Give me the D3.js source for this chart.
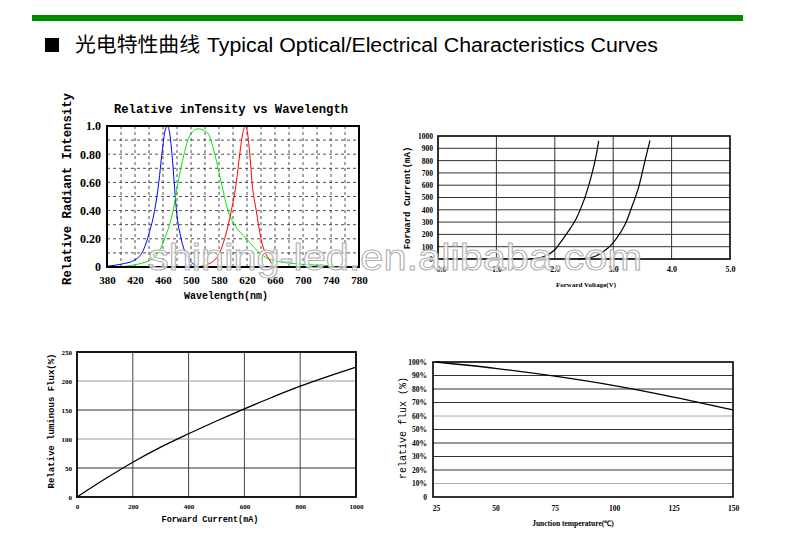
<!DOCTYPE html>
<html><head><meta charset="utf-8">
<script src="https://cdn.jsdelivr.net/npm/d3@7"></script>
<style>body{margin:0;background:#fff}svg{display:block}</style>
</head><body>
<svg id="c" width="790" height="544"></svg>
<script>
// ---------- data ----------
const wlLabels = ["380","420","460","500","580","620","660","700","740","780"];
const specYTicks = [0,0.2,0.4,0.6,0.8,1.0];
const specYLabels = ["0","0.20","0.40","0.60","0.80","1.0"];
const blueX = [0,0.5,1.0,1.3,1.52,1.7,1.85,1.96,2.08,2.15,2.22,2.32,2.4,2.48,2.65,2.95,3.25];
const blueY = [0.005,0.02,0.05,0.12,0.25,0.4,0.6,0.8,0.97,1.0,0.97,0.8,0.6,0.4,0.2,0.05,0.005];
const greenX = [0.3,1.1,1.7,2.06,2.36,2.54,2.75,2.95,3.25,3.6,3.85,4.08,4.32,4.56,4.98,5.45,5.87,6.94,7.9];
const greenY = [0,0.02,0.07,0.2,0.4,0.6,0.8,0.93,0.98,0.95,0.8,0.6,0.4,0.3,0.2,0.1,0.05,0.02,0.01];
const redX = [3.25,3.85,4.2,4.44,4.62,4.74,4.85,4.94,5.02,5.1,5.18,5.33,5.5,5.8,6.05];
const redY = [0,0.05,0.2,0.4,0.6,0.8,0.95,1.0,0.95,0.8,0.6,0.4,0.2,0.05,0];

const vfTicks = [0,1,2,3,4,5];
const vfLabels = ["0.0","1.0","2.0","3.0","4.0","5.0"];
const ifTicks = [0,100,200,300,400,500,600,700,800,900,1000];
const iv1V = [1.6,1.83,2.0,2.11,2.23,2.37,2.51,2.63,2.71,2.75];
const iv1I = [0,22,75,143,224,332,493,682,844,960];
const iv2V = [2.4,2.69,2.91,3.06,3.2,3.31,3.43,3.54,3.63];
const iv2I = [0,22,89,170,278,412,574,790,965];

const curTicks = [0,200,400,600,800,1000];
const fluxTicks = [0,50,100,150,200,250];
const current = [0,100,200,300,400,500,600,700,800,900,1000];
const flux = [0,31,60,86,109,131,152,172,191,208,224];

const tempTicks = [25,50,75,100,125,150];
const relTicks = [0,10,20,30,40,50,60,70,80,90,100];
const temp = [25,50,75,100,125,150];
const relFlux = [100,95.3,89.5,82.5,74,64.5];

// ---------- drawing ----------
const svg = d3.select("#c");
const MONO = "'Liberation Mono', 'DejaVu Sans Mono', monospace";
const SERIF = "'Liberation Serif', serif";
const smooth = d3.curveCatmullRom.alpha(0.5);

// header
svg.append("rect").attr("x",32).attr("y",15).attr("width",711).attr("height",6).attr("fill","#008a00");
svg.append("rect").attr("x",45).attr("y",38).attr("width",14).attr("height",14).attr("fill","#000");
svg.append("text").attr("x",75).attr("y",52).attr("font-family","'Noto Sans CJK SC', sans-serif")
  .attr("font-size",20).attr("fill","#000").attr("textLength",125).attr("lengthAdjust","spacingAndGlyphs").text("光电特性曲线");
svg.append("text").attr("x",207).attr("y",52).attr("font-family","'Liberation Sans', Arial, sans-serif")
  .attr("font-size",19.5).attr("fill","#000").attr("textLength",451).attr("lengthAdjust","spacingAndGlyphs")
  .text("Typical Optical/Electrical Characteristics Curves");

function zip(a,b){return a.map((v,i)=>[v,b[i]]);}

// ---------- Panel 1: spectrum ----------
{
  const L=107,R=359,T=126,B=267;
  const x = d3.scaleLinear().domain([0,9]).range([L,R]);
  const y = d3.scaleLinear().domain([0,1]).range([B,T]);
  const g = svg.append("g");
  const gridX = d3.range(1,18).map(d=>d/2);
  const gridY = d3.range(1,10).map(d=>d/10);
  g.selectAll(".gx").data(gridX).join("line").attr("x1",d=>x(d)).attr("x2",d=>x(d)).attr("y1",T).attr("y2",B)
    .attr("stroke","#222").attr("stroke-width",0.8).attr("stroke-dasharray","3,3");
  g.selectAll(".gy").data(gridY).join("line").attr("x1",L).attr("x2",R).attr("y1",d=>y(d)).attr("y2",d=>y(d))
    .attr("stroke","#222").attr("stroke-width",0.8).attr("stroke-dasharray","3,3");
  const line = d3.line().x(d=>x(d[0])).y(d=>y(d[1])).curve(d3.curveMonotoneX);
  [[blueX,blueY,"#0000ff"],[greenX,greenY,"#00e800"],[redX,redY,"#ff0000"]].forEach(([xs,ys,c])=>{
    g.append("path").attr("d",line(zip(xs,ys))).attr("fill","none").attr("stroke",c).attr("stroke-width",1);
  });
  g.append("rect").attr("x",L).attr("y",T).attr("width",R-L).attr("height",B-T).attr("fill","none")
    .attr("stroke","#000").attr("stroke-width",2);
  const ax = g.append("g").attr("transform",`translate(0,${B})`)
    .call(d3.axisBottom(x).tickValues(d3.range(0,10)).tickFormat(i=>wlLabels[i]).tickSize(0).tickPadding(9));
  ax.select(".domain").remove();
  ax.selectAll("text").attr("font-family",SERIF).attr("font-weight","bold").attr("font-size",11).attr("fill","#000");
  const ay = g.append("g").attr("transform",`translate(${L},0)`)
    .call(d3.axisLeft(y).tickValues(specYTicks).tickFormat((d,i)=>specYLabels[i]).tickSize(0).tickPadding(6));
  ay.select(".domain").remove();
  ay.selectAll("text").attr("font-family",SERIF).attr("font-weight","bold").attr("font-size",12).attr("fill","#000");
  g.append("text").attr("x",231).attr("y",113).attr("text-anchor","middle").attr("font-family",MONO)
    .attr("font-size",12.2).attr("font-weight","bold").text("Relative inTensity vs Wavelength");
  g.append("text").attr("x",226).attr("y",299).attr("text-anchor","middle").attr("font-family",MONO)
    .attr("font-size",10).attr("font-weight","bold").text("Wavelength(nm)");
  g.append("text").attr("transform","translate(71,189) rotate(-90)").attr("text-anchor","middle")
    .attr("font-family",MONO).attr("font-size",12.3).attr("font-weight","bold").text("Relative Radiant Intensity");
}

// ---------- Panel 2: IV ----------
{
  const L=438,R=730,T=136,B=259;
  const x = d3.scaleLinear().domain([0,5]).range([L,R]);
  const y = d3.scaleLinear().domain([0,1000]).range([B,T]);
  const g = svg.append("g");
  g.selectAll(".gx").data(vfTicks.slice(1,-1)).join("line").attr("x1",d=>x(d)).attr("x2",d=>x(d)).attr("y1",T).attr("y2",B)
    .attr("stroke","#333").attr("stroke-width",1);
  g.selectAll(".gy").data(ifTicks.slice(1,-1)).join("line").attr("x1",L).attr("x2",R).attr("y1",d=>y(d)).attr("y2",d=>y(d))
    .attr("stroke","#333").attr("stroke-width",1);
  const line = d3.line().x(d=>x(d[0])).y(d=>y(d[1])).curve(smooth);
  [[iv1V,iv1I],[iv2V,iv2I]].forEach(([xs,ys])=>{
    g.append("path").attr("d",line(zip(xs,ys))).attr("fill","none").attr("stroke","#000").attr("stroke-width",1.2);
  });
  g.append("rect").attr("x",L).attr("y",T).attr("width",R-L).attr("height",B-T).attr("fill","none")
    .attr("stroke","#000").attr("stroke-width",1.6);
  const ax = g.append("g").attr("transform",`translate(0,${B})`)
    .call(d3.axisBottom(x).tickValues(vfTicks).tickFormat((d,i)=>vfLabels[i]).tickSize(0).tickPadding(7));
  ax.select(".domain").remove();
  ax.selectAll("text").attr("font-family",SERIF).attr("font-weight","bold").attr("font-size",8).attr("fill","#000")
    .attr("dx",(d,i)=>i===0?3:0);
  const ay = g.append("g").attr("transform",`translate(${L},0)`)
    .call(d3.axisLeft(y).tickValues(ifTicks).tickFormat(d3.format("d")).tickSize(0).tickPadding(5));
  ay.select(".domain").remove();
  ay.selectAll("text").attr("font-family",SERIF).attr("font-weight","bold").attr("font-size",7.5).attr("fill","#000");
  g.append("text").attr("x",586).attr("y",287).attr("text-anchor","middle").attr("font-family",SERIF)
    .attr("font-size",7).attr("font-weight","bold").text("Forward Voltage(V)");
  g.append("text").attr("transform","translate(410,198) rotate(-90)").attr("text-anchor","middle")
    .attr("font-family",MONO).attr("font-size",9).attr("font-weight","bold").text("Forward Current(mA)");
}

// ---------- Panel 3: flux vs current ----------
{
  const L=77,R=356,T=352,B=497;
  const x = d3.scaleLinear().domain([0,1000]).range([L,R]);
  const y = d3.scaleLinear().domain([0,250]).range([B,T]);
  const g = svg.append("g");
  g.selectAll(".gx").data(curTicks.slice(1,-1)).join("line").attr("x1",d=>x(d)).attr("x2",d=>x(d)).attr("y1",T).attr("y2",B)
    .attr("stroke","#444").attr("stroke-width",1);
  g.selectAll(".gy").data(fluxTicks.slice(1,-1)).join("line").attr("x1",L).attr("x2",R).attr("y1",d=>y(d)).attr("y2",d=>y(d))
    .attr("stroke",d=>(d===100||d===200)?"#999":"#333").attr("stroke-width",1);
  const line = d3.line().x(d=>x(d[0])).y(d=>y(d[1])).curve(smooth);
  g.append("path").attr("d",line(zip(current,flux))).attr("fill","none").attr("stroke","#000").attr("stroke-width",1.3);
  g.append("rect").attr("x",L).attr("y",T).attr("width",R-L).attr("height",B-T).attr("fill","none")
    .attr("stroke","#000").attr("stroke-width",1.8);
  const ax = g.append("g").attr("transform",`translate(0,${B})`)
    .call(d3.axisBottom(x).tickValues(curTicks).tickFormat(d3.format("d")).tickSize(0).tickPadding(7));
  ax.select(".domain").remove();
  ax.selectAll("text").attr("font-family",SERIF).attr("font-weight","bold").attr("font-size",7).attr("fill","#000");
  const ay = g.append("g").attr("transform",`translate(${L},0)`)
    .call(d3.axisLeft(y).tickValues(fluxTicks).tickFormat(d3.format("d")).tickSize(0).tickPadding(5));
  ay.select(".domain").remove();
  ay.selectAll("text").attr("font-family",SERIF).attr("font-weight","bold").attr("font-size",7).attr("fill","#000");
  g.append("text").attr("x",210).attr("y",522).attr("text-anchor","middle").attr("font-family",MONO)
    .attr("font-size",8.5).attr("font-weight","bold").text("Forward Current(mA)");
  g.append("text").attr("transform","translate(54,421) rotate(-90)").attr("text-anchor","middle")
    .attr("font-family",MONO).attr("font-size",9).attr("font-weight","bold").text("Relative luminous Flux(%)");
}

// ---------- Panel 4: flux vs temperature ----------
{
  const L=433,R=733,T=362,B=497;
  const x = d3.scaleLinear().domain([25,150]).range([L+3,R]);
  const y = d3.scaleLinear().domain([0,100]).range([B,T]);
  const g = svg.append("g");
  g.selectAll(".gy").data(relTicks.slice(1,-1)).join("line").attr("x1",L).attr("x2",R).attr("y1",d=>y(d)).attr("y2",d=>y(d))
    .attr("stroke",d=>(d===60||d===10)?"#aaa":"#333").attr("stroke-width",1);
  const line = d3.line().x(d=>x(d[0])).y(d=>y(d[1])).curve(smooth);
  g.append("path").attr("d",line(zip(temp,relFlux))).attr("fill","none").attr("stroke","#000").attr("stroke-width",1.3);
  g.append("rect").attr("x",L).attr("y",T).attr("width",R-L).attr("height",B-T).attr("fill","none")
    .attr("stroke","#000").attr("stroke-width",1.6);
  const ax = g.append("g").attr("transform",`translate(0,${B})`)
    .call(d3.axisBottom(x).tickValues(tempTicks).tickFormat(d3.format("d")).tickSize(0).tickPadding(9));
  ax.select(".domain").remove();
  ax.selectAll("text").attr("font-family",SERIF).attr("font-weight","bold").attr("font-size",7.5).attr("fill","#000");
  const ay = g.append("g").attr("transform",`translate(${L},0)`)
    .call(d3.axisLeft(y).tickValues(relTicks).tickFormat(d=>d===0?"0":d+"%").tickSize(0).tickPadding(6));
  ay.select(".domain").remove();
  ay.selectAll("text").attr("font-family",SERIF).attr("font-weight","bold").attr("font-size",7.5).attr("fill","#000");
  g.append("text").attr("x",573).attr("y",526).attr("text-anchor","middle").attr("font-family",SERIF)
    .attr("font-size",7.5).attr("font-weight","bold").text("Junction temperature(℃)");
  g.append("text").attr("transform","translate(406,428) rotate(-90)").attr("text-anchor","middle")
    .attr("font-family",MONO).attr("font-size",10).text("relative flux (%)");
}

// watermark
svg.append("text").attr("x",148).attr("y",270).attr("font-family","'Liberation Sans', Arial, sans-serif")
  .attr("font-size",36).attr("fill","rgba(255,255,255,0.75)").attr("stroke","#b0b0b0").attr("stroke-width",1)
  .attr("textLength",494).attr("lengthAdjust","spacingAndGlyphs").text("shining-led.en.alibaba.com");
</script>
</body></html>
